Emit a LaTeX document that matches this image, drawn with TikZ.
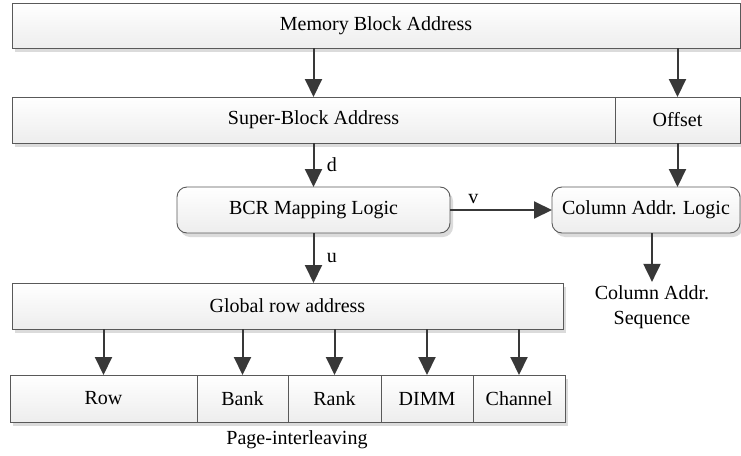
\documentclass[tikz,border=0pt]{standalone}
\usepackage{fontspec}
\setmainfont{Liberation Serif}
\usetikzlibrary{positioning,
                arrows.meta,                % arrow tips
                shadows}                    % drop shadows

\tikzset{
  blk/.style={draw=black!65, line width=0.9pt, top color=white, bottom color=black!7,
    drop shadow={shadow xshift=3pt, shadow yshift=-4pt, fill=black!14, opacity=1},
    inner sep=0pt, outer sep=0pt, font=\rmfamily\fontsize{20}{24}\selectfont},
  logic/.style={blk, rounded corners=10pt},
  arr/.style={-{Triangle[length=18pt, width=17pt]}, draw=black!78, line width=2pt},
  lbl/.style={font=\rmfamily\fontsize{20}{25}\selectfont}
}

\begin{document}
\begin{tikzpicture}[x=1pt, y=-1pt]
        \useasboundingbox (0,0) rectangle (741,455);
        % address fields
        \node[blk, minimum width=728pt, minimum height=45pt] (mba) at (376,25.5) {Memory Block Address};
        \node[blk, minimum width=603pt, minimum height=46pt] (sba) at (313.5,120) {Super-Block Address};
        \node[blk, minimum width=125pt, minimum height=46pt] (off) at (677.5,120) {Offset};
        % logic
        \node[logic, minimum width=273pt, minimum height=46pt] (bcr) at (313.5,210) {BCR Mapping Logic};
        \node[logic, minimum width=188pt, minimum height=46pt] (cal) at (646,210) {Column Addr. Logic};
        \node[lbl, align=center] (seq) at (652,307) {Column Addr.\\Sequence};
        % row address
        \node[blk, minimum width=551pt, minimum height=46pt] (gra) at (287.5,306) {Global row address};
        \node[blk, minimum width=187pt, minimum height=47pt] (row) at (103.5,398.5) {Row};
        \node[blk, minimum width=91pt, minimum height=47pt] (bank) at (242.5,398.5) {Bank};
        \node[blk, minimum width=93pt, minimum height=47pt] (rank) at (334.5,398.5) {Rank};
        \node[blk, minimum width=92pt, minimum height=47pt] (dimm) at (427,398.5) {DIMM};
        \node[blk, minimum width=92pt, minimum height=47pt] (chan) at (519,398.5) {Channel};
        \node[lbl] (pil) at (297,440) {Page-interleaving};

        \draw[arr] (sba.north |- mba.south) -- (sba.north);
        \draw[arr] (off.north |- mba.south) -- (off.north);
        \draw[arr] (sba.south) -- (bcr.north) node[lbl, midway, right=9pt] {d};
        \draw[arr] (off.south) -- (off.south |- cal.north);
        \draw[arr] (bcr.east) -- (cal.west) node[lbl, pos=0.23, above=2pt] {v};
        \draw[arr] (bcr.south) -- (bcr.south |- gra.north) node[lbl, midway, right=9pt] {u};
        \draw[arr] (seq.north |- cal.south) -- (seq.north);
        \foreach \c in {row,bank,rank,dimm,chan}
        { \draw[arr] (\c.north |- gra.south) -- (\c.north);
        }
\end{tikzpicture}
\end{document}
